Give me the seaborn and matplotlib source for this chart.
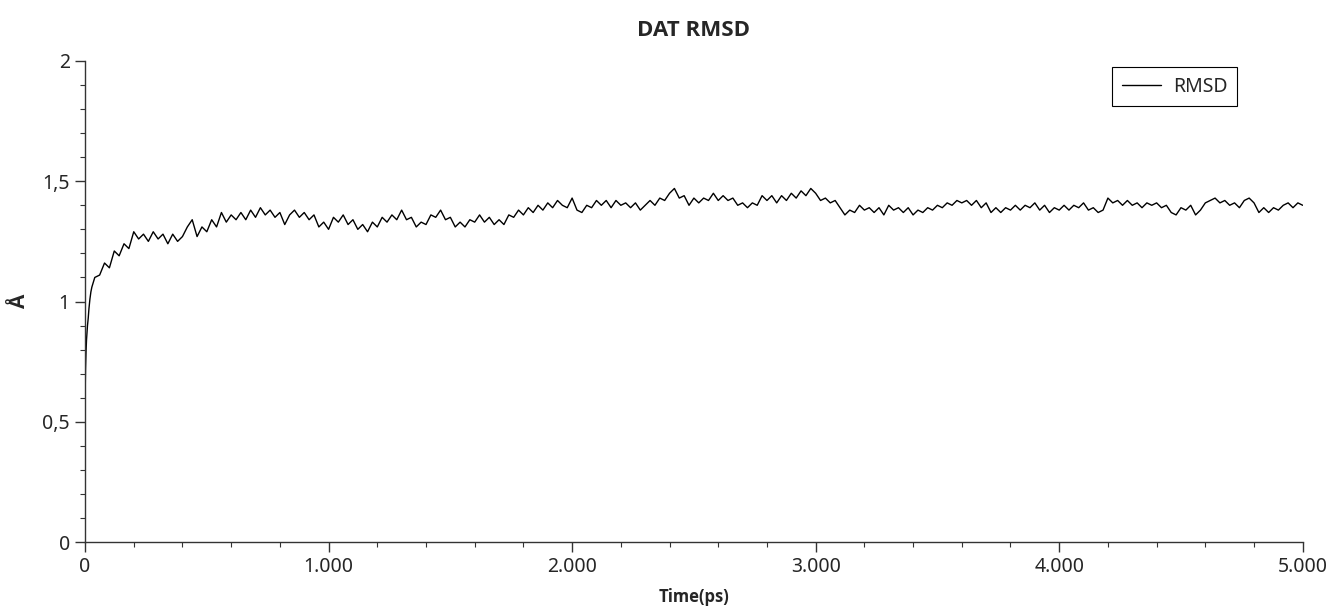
import numpy as np
import pandas as pd
import matplotlib
matplotlib.use("Agg")
import matplotlib.pyplot as plt
import matplotlib.ticker as mticker
import seaborn as sns

# early part of the trajectory (fast rise)
early_time = [0, 2, 4, 6, 8, 10, 13, 16, 20, 24, 28, 34]
early_rmsd = [0.59, 0.72, 0.79, 0.84, 0.87, 0.90, 0.93, 0.97, 1.01, 1.04, 1.06, 1.08]

# rest of the trajectory, one sample every 20 ps from 40 ps
main_time = list(range(40, 5001, 20))
main_rmsd = [
    1.10, 1.11, 1.16, 1.14, 1.21, 1.19, 1.24, 1.22, 1.29, 1.26,
    1.28, 1.25, 1.29, 1.26, 1.28, 1.24, 1.28, 1.25, 1.27, 1.31,
    1.34, 1.27, 1.31, 1.29, 1.34, 1.31, 1.37, 1.33, 1.36, 1.34,
    1.37, 1.34, 1.38, 1.35, 1.39, 1.36, 1.38, 1.35, 1.37, 1.32,
    1.36, 1.38, 1.35, 1.37, 1.34, 1.36, 1.31, 1.33, 1.30, 1.35,
    1.33, 1.36, 1.32, 1.34, 1.30, 1.32, 1.29, 1.33, 1.31, 1.35,
    1.33, 1.36, 1.34, 1.38, 1.34, 1.35, 1.31, 1.33, 1.32, 1.36,
    1.35, 1.38, 1.34, 1.35, 1.31, 1.33, 1.31, 1.34, 1.33, 1.36,
    1.33, 1.35, 1.32, 1.34, 1.32, 1.36, 1.35, 1.38, 1.36, 1.39,
    1.37, 1.40, 1.38, 1.41, 1.39, 1.42, 1.40, 1.39, 1.43, 1.38,
    1.37, 1.40, 1.39, 1.42, 1.40, 1.42, 1.39, 1.42, 1.40, 1.41,
    1.39, 1.41, 1.38, 1.40, 1.42, 1.40, 1.43, 1.42, 1.45, 1.47,
    1.43, 1.44, 1.40, 1.43, 1.41, 1.43, 1.42, 1.45, 1.42, 1.44,
    1.42, 1.43, 1.40, 1.41, 1.39, 1.41, 1.40, 1.44, 1.42, 1.44,
    1.41, 1.44, 1.42, 1.45, 1.43, 1.46, 1.44, 1.47, 1.45, 1.42,
    1.43, 1.41, 1.42, 1.39, 1.36, 1.38, 1.37, 1.40, 1.38, 1.39,
    1.37, 1.39, 1.36, 1.40, 1.38, 1.39, 1.37, 1.39, 1.36, 1.38,
    1.37, 1.39, 1.38, 1.40, 1.39, 1.41, 1.40, 1.42, 1.41, 1.42,
    1.40, 1.42, 1.39, 1.41, 1.37, 1.39, 1.37, 1.39, 1.38, 1.40,
    1.38, 1.40, 1.39, 1.41, 1.38, 1.40, 1.37, 1.39, 1.38, 1.40,
    1.38, 1.40, 1.39, 1.41, 1.38, 1.39, 1.37, 1.38, 1.43, 1.41,
    1.42, 1.40, 1.42, 1.40, 1.41, 1.39, 1.41, 1.40, 1.41, 1.39,
    1.40, 1.37, 1.36, 1.39, 1.38, 1.40, 1.36, 1.38, 1.41, 1.42,
    1.43, 1.41, 1.42, 1.40, 1.41, 1.39, 1.42, 1.43, 1.41, 1.37,
    1.39, 1.37, 1.39, 1.38, 1.40, 1.41, 1.39, 1.41, 1.40,
]

df = pd.DataFrame({
    "Time": early_time + main_time,
    "RMSD": early_rmsd + main_rmsd,
})

sns.set_style("ticks")
plt.rcParams["font.family"] = ["Noto Sans", "DejaVu Sans"]
bold_font = ["Open Sans", "DejaVu Sans"]

fig = plt.figure(figsize=(13.33, 6.16), dpi=100)
ax = fig.add_axes([0.0638, 0.1201, 0.9135, 0.7809])

sns.lineplot(data=df, x="Time", y="RMSD", color="black", linewidth=1.0,
             label="RMSD", ax=ax)

ax.set_xlim(0, 5000)
ax.set_ylim(0, 2)
ax.xaxis.set_major_locator(mticker.MultipleLocator(1000))
ax.xaxis.set_minor_locator(mticker.MultipleLocator(200))
ax.yaxis.set_major_locator(mticker.MultipleLocator(0.5))
ax.yaxis.set_minor_locator(mticker.MultipleLocator(0.1))
ax.xaxis.set_major_formatter(mticker.FuncFormatter(
    lambda v, p: "0" if v == 0 else f"{int(v):,}".replace(",", ".")))
ax.yaxis.set_major_formatter(mticker.FuncFormatter(
    lambda v, p: f"{v:g}".replace(".", ",")))

for s in ["top", "right"]:
    ax.spines[s].set_visible(False)
for s in ["left", "bottom"]:
    ax.spines[s].set_color("#333333")
    ax.spines[s].set_linewidth(1.0)

ax.tick_params(which="major", length=7, width=1, color="#333333",
               labelsize=14, pad=4)
ax.tick_params(which="minor", length=3.5, width=0.8, color="#333333")

ax.set_title("DAT RMSD", fontsize=16, fontweight="bold", family=bold_font,
             pad=18)
ax.set_xlabel("Time(ps)", fontsize=12, fontweight="bold", family=bold_font,
              labelpad=8)
ax.set_ylabel("Å", fontsize=15, fontweight="bold", family=bold_font)
ax.yaxis.set_label_coords(-0.045, 0.5)

leg = ax.legend(loc="upper right", bbox_to_anchor=(0.946, 0.9875),
                borderaxespad=0, fontsize=14, fancybox=False,
                framealpha=1, edgecolor="black", handlelength=2.0,
                handletextpad=0.6, borderpad=0.5)
leg.get_frame().set_linewidth(0.8)

fig.savefig("out.png", dpi=100)
